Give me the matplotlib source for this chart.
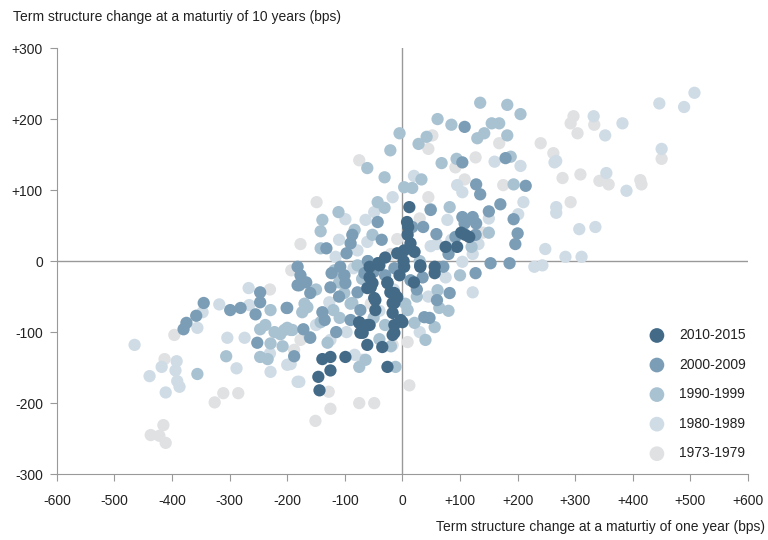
import matplotlib
matplotlib.use("Agg")
import matplotlib.pyplot as plt
import numpy as np

plt.rcParams['font.family'] = ['Liberation Sans', 'DejaVu Sans']

# period labels and colours (darkest = most recent)
periods = ["1973-1979", "1980-1989", "1990-1999", "2000-2009", "2010-2015"]
colors = ["#e0e1e3", "#cfdce6", "#a9c2d2", "#7b9db5", "#436a87"]

# change at 1y maturity (x) and 10y maturity (y), in bps
x_7379 = [-437, -422, -411, -415, -326, -311, -285, -396, -413, -193, -151, -125, -75, -49,
          12, -75, -149, -177, -17, -9, 240, 262, 297, 292, 304, 333, 278, 309, 342, 358,
          413, 415, 450, 292, 52, 45, 92, 127, 108, 168, 175, 45, -188, -177, -128, 9,
          -100, -55, -20, 30, 140, -230]
y_7379 = [-245, -246, -256, -231, -199, -186, -186, -104, -138, -13, -225, -208, -200, -200,
          -175, 142, 83, 24, -118, 31, 166, 152, 204, 194, 180, 192, 117, 122, 113, 108,
          114, 108, 144, 83, 177, 158, 132, 146, 115, 166, 107, 90, -125, -111, -184, -114,
          -20, -60, 10, 60, 40, -40]

x_8089 = [-465, -439, -418, -392, -394, -391, -387, -411, -356, -347, -318, -304, -274, -267,
          -266, -288, -229, -194, -182, 446, 489, 507, 382, 332, 352, 450, 354, 267, 389, 267,
          267, 307, 335, 248, 283, 311, 243, 229, 205, 210, 95, 104, 49, 60, 122, 132, 104,
          78, 201, -17, -49, -64, -99, -116, -78, -61, -200, -179, -97, -125, -69, -83, -127,
          75, 122, 264, -150, -40, 20, 160, -110, -230, 30, 150, -15, 45, -85, 85]
y_8089 = [-118, -162, -149, -141, -154, -169, -177, -185, -94, -72, -61, -108, -108, -38,
          -62, -151, -156, -145, -170, 222, 217, 237, 194, 204, 177, 158, 124, 141, 99, 76,
          68, 45, 48, 17, 6, 6, -6, -8, 134, 83, 107, 97, 21, 24, 10, 24, -1,
          58, 66, 90, 69, 58, 59, 6, 15, 27, -146, -170, -100, -111, -139, -132, -58,
          -23, -44, 139, -90, -70, 120, 140, 30, -130, -100, 60, -40, -50, -10, 30]

x_9099 = [135, 182, 205, 61, 85, 155, 168, 142, 130, 182, 42, 28, -5, 68, 94, 188, 33, 3,
          17, 193, 82, 49, -61, -31, -43, -31, -111, -139, -142, -142, -83, -52, -21, -165,
          -174, -205, -194, -161, -142, -120, -109, -101, -87, -75, -64, -12, -118, -104, -78,
          -130, -306, -356, -247, -238, -222, -212, -200, -191, -229, -208, -247, -234, -229,
          61, 64, 40, 9, 21, 56, -50, -30, -90, 100, 120, 30, -150, -170, -60, -20, 150,
          -40, -110, 5, 80, -70, 25]
y_9099 = [223, 220, 207, 200, 192, 194, 194, 180, 173, 177, 175, 165, 180, 138, 144, 147, 115,
          104, 103, 108, 76, 73, 131, 118, 83, 75, 69, 58, 42, 18, 44, 37, 156, -65,
          -72, -97, -97, -107, -86, -69, -80, -45, -59, -149, -139, -149, -13, -24, -6,
          -115, -134, -159, -96, -90, -100, -103, -94, -97, -69, -120, -135, -138, -116,
          -41, -66, -111, -69, -87, -93, -80, -90, -60, -20, 20, 0, -40, -60, 0, -120, 40,
          -110, -30, -60, -70, -25, -50]

x_0009 = [-380, -375, -358, -345, -299, -281, -255, -247, -247, -201, -252, -188, -182, -182,
          -177, -167, -179, -160, -200, -172, -160, -125, -139, -135, -123, -101, -99, -108,
          -66, -78, -73, -43, -90, -14, -132, -87, -90, -97, -43, -36, 108, 104, 179, 128,
          135, 214, 193, 200, 196, 49, 59, 36, 104, 122, 128, 108, 92, 127, 153, 186, 17,
          71, 127, 82, 38, 47, 35, 14, 80, 60, -60, -30, -110, 150, 170, -115, -50, 25]
y_0009 = [-96, -87, -77, -59, -69, -66, -75, -44, -58, -66, -115, -134, -8, -34,
          -20, -30, -34, -45, -66, -96, -108, -37, -72, -83, -17, -20, -31, -8,
          -17, -44, -69, -3, -83, -10, 18, 37, 25, 11, 55, 30, 189, 139, 145, 108,
          94, 106, 59, 39, 24, 72, 38, 48, 62, 62, 53, 53, 34, 37, -3, -3, 48,
          -8, -17, -45, -79, -80, -23, -27, 10, -55, 0, -20, -50, 70, 80, -100, -15, -40]

x_1015 = [-144, -146, -125, -139, -125, -99, -75, -61, -69, -61, -35, -26, -47, -49, -61,
          -52, -57, -40, -26, -21, -17, -17, -14, -17, -9, 12, 10, 9, 14, 3, -9, 21, 3, 31,
          56, 75, 95, 109, 116, -42, -57, -55, -47, -26, -14, -14, -3, -14, -75, -57, -73,
          56, 31, 0, -5, 2, -30, 8, 20, 102]
y_1015 = [-182, -163, -135, -138, -154, -135, -86, -90, -101, -118, -121, -149, -69, -52, -38,
          -31, -8, -6, -30, -44, -59, -73, -90, -104, -51, 76, 48, 37, 25, 15, 11, 13, -8, -8,
          -8, 20, 20, 37, 34, -3, -23, -37, -55, -31, -45, -59, -83, -101, -87, -90, -101,
          -17, -6, -86, -20, 0, 5, 55, -30, 40]

xs = [x_7379, x_8089, x_9099, x_0009, x_1015]
ys = [y_7379, y_8089, y_9099, y_0009, y_1015]

fig = plt.figure(figsize=(7.68, 5.4), dpi=100)
ax = fig.add_axes([0.074, 0.122, 0.9, 0.789])

# zero lines
ax.axhline(0, color="#999999", lw=1, zorder=1)
ax.axvline(0, color="#999999", lw=1, zorder=1)

handles = []
for lab, c, x, y in zip(periods, colors, xs, ys):
    h = ax.scatter(x, y, s=78, color=c, label=lab, edgecolors="none", zorder=2)
    handles.append(h)

ax.set_xlim(-600, 600)
ax.set_ylim(-300, 300)

xt = np.arange(-600, 601, 100)
yt = np.arange(-300, 301, 100)
ax.set_xticks(xt)
ax.set_yticks(yt)
ax.set_xticklabels([("+%d" % v) if v > 0 else "%d" % v for v in xt])
ax.set_yticklabels([("+%d" % v) if v > 0 else "%d" % v for v in yt])

for s in ["top", "right"]:
    ax.spines[s].set_visible(False)
for s in ["left", "bottom"]:
    ax.spines[s].set_color("#999999")
ax.tick_params(direction="out", length=5, color="#999999", labelsize=10,
               labelcolor="#222222")
ax.tick_params(axis="y", pad=5)
ax.tick_params(axis="x", pad=9)

fig.text(0.017, 0.968, "Term structure change at a maturtiy of 10 years (bps)",
         fontsize=10, color="#222222", ha="left", va="center")
fig.text(0.996, 0.025, "Term structure change at a maturtiy of one year (bps)",
         fontsize=10, color="#222222", ha="right", va="center")

leg = ax.legend(handles[::-1], periods[::-1], loc="upper left",
                bbox_to_anchor=(0.83, 0.372), frameon=False, fontsize=10,
                labelspacing=1.12, handletextpad=0.6, markerscale=1.2)
for t in leg.get_texts():
    t.set_color("#222222")

fig.savefig("out.png", dpi=100)
